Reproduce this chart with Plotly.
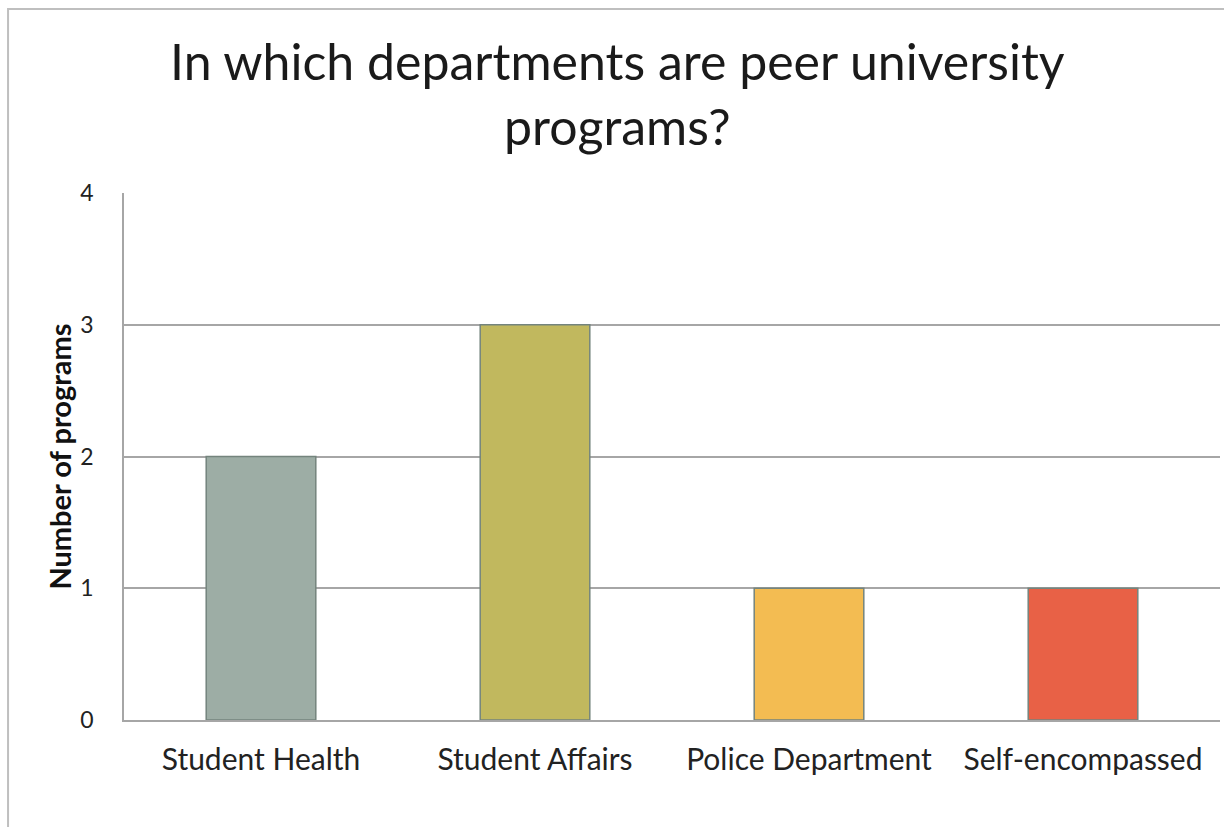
import plotly.graph_objects as go

categories = ["Student Health", "Student Affairs", "Police Department", "Self-encompassed"]
values = [2, 3, 1, 1]
bar_colors = ["#9DADA5", "#C1B85E", "#F3BC52", "#E86146"]
y_ticks = [0, 1, 2, 3, 4]
title_text = "In which departments are peer university<br>programs?"
y_title = "Number of programs"

FONT = "Lato, 'Open Sans', sans-serif"

fig = go.Figure()
fig.add_trace(go.Bar(
    x=categories, y=values,
    marker=dict(color=bar_colors, line=dict(color="#74847D", width=1.5)),
    width=0.4,
    showlegend=False,
))

fig.update_layout(
    width=1224, height=827,
    margin=dict(l=124, r=4, t=193, b=107),
    paper_bgcolor="white", plot_bgcolor="white",
    font=dict(family=FONT, color="#222222"),
    bargap=0.6,
)
fig.add_annotation(
    text=title_text, xref="paper", yref="paper", x=0.450, y=1.188,
    xanchor="center", yanchor="middle", showarrow=False, align="center",
    font=dict(size=50, family=FONT, color="#1a1a1a"),
)
fig.update_xaxes(
    showgrid=False, showline=True, linecolor="#A6A6A6", linewidth=1.5,
    tickfont=dict(size=30, family=FONT, color="#222222"),
    ticks="", ticklabelstandoff=12,
)
fig.update_yaxes(
    range=[0, 4], tickvals=y_ticks, showgrid=True, gridcolor="#A6A6A6", gridwidth=1.5,
    showline=True, linecolor="#A6A6A6", linewidth=1.5, zeroline=False,
    tickfont=dict(size=23, family=FONT, color="#222222"), ticks="",
    ticklabelstandoff=24,
    title=dict(text="<b>" + y_title + "</b>", font=dict(size=29, family=FONT, color="#111111"),
               standoff=0),
)
# outer frame (cropped by the page edges)
fig.add_shape(type="rect", xref="paper", yref="paper",
              x0=-0.1058, x1=1.05, y0=-0.3, y1=1.349,
              line=dict(color="#BFBFBF", width=2), fillcolor="rgba(0,0,0,0)", layer="below")

fig.write_html("out.html", config={"displayModeBar": False},
               post_script="document.body.style.margin='0';")
